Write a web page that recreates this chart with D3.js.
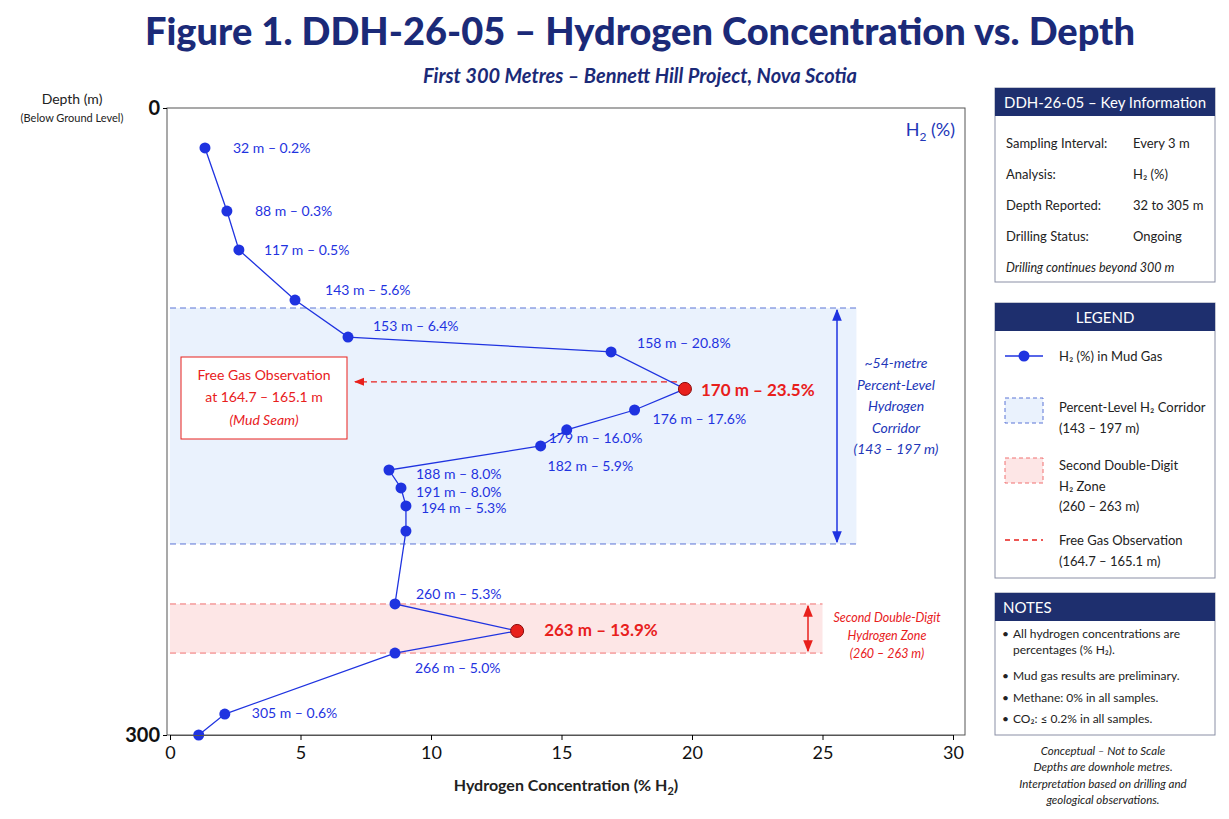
<!DOCTYPE html><html><head><meta charset="utf-8">
<script src="https://cdn.jsdelivr.net/npm/d3@7"></script>
<style>body{margin:0;background:#fff}text{font-family:Lato,"Open Sans",sans-serif}</style></head><body>
<svg id="c" width="1229" height="819"></svg>
<script>
// plotted positions (conceptual, not to scale)
const h2Pos=[1.34,2.18,2.64,4.79,6.82,16.9,19.73,17.8,15.2,14.2,8.39,8.85,9.04,9.04,8.62,13.3,8.62,2.1,1.1];
const depthPos=[19.1,49.3,67.9,91.9,109.6,116.7,134.4,144.5,154,161.7,173.2,181.8,190.4,202.4,237.3,250.2,260.8,290,300];
const labels=["32 m – 0.2%","88 m – 0.3%","117 m – 0.5%","143 m – 5.6%","153 m – 6.4%","158 m – 20.8%","170 m – 23.5%","176 m – 17.6%","179 m – 16.0%","182 m – 5.9%","188 m – 8.0%","191 m – 8.0%","194 m – 5.3%","260 m – 5.3%","263 m – 13.9%","266 m – 5.0%","305 m – 0.6%"];
const xTicks=[0,5,10,15,20,25,30];
const yTicks=[0,300];
const corridor=[95.7,208.6], zone2=[237.3,260.8], freeGasDepth=131;
const keyInfo=[["Sampling Interval:","Every 3 m"],["Analysis:","H₂ (%)"],["Depth Reported:","32 to 305 m"],["Drilling Status:","Ongoing"]];
const svg=d3.select("#c");
const x=d3.scaleLinear().domain([0,30]).range([170,953]);
const y=d3.scaleLinear().domain([0,300]).range([108,735]);
const navy="#1b2a78", blue="#1f33e0", red="#e8201c";
svg.append("text").attr("x",640).attr("y",45).attr("text-anchor","middle").attr("font-size",38).attr("font-weight",900).attr("fill",navy).attr("font-family","'DejaVu Sans Condensed',sans-serif").text("Figure 1.  DDH-26-05 – Hydrogen Concentration vs. Depth");
svg.append("text").attr("x",640).attr("y",83).attr("text-anchor","middle").attr("font-size",20).attr("font-weight",700).attr("font-style","italic").attr("fill",navy).text("First 300 Metres – Bennett Hill Project, Nova Scotia");
svg.append("rect").attr("x",167).attr("y",108).attr("width",798).attr("height",627).attr("fill","none").attr("stroke","#555");
svg.append("rect").attr("x",170).attr("y",y(corridor[0])).attr("width",x(26.3)-170).attr("height",y(corridor[1])-y(corridor[0])).attr("fill","#eaf2fd");
corridor.forEach(d=>svg.append("line").attr("x1",170).attr("x2",x(26.3)).attr("y1",y(d)).attr("y2",y(d)).attr("stroke","#5b74d6").attr("stroke-dasharray","6,4"));
svg.append("rect").attr("x",170).attr("y",y(zone2[0])).attr("width",x(25)-170).attr("height",y(zone2[1])-y(zone2[0])).attr("fill","#fde6e6");
zone2.forEach(d=>svg.append("line").attr("x1",170).attr("x2",x(25)).attr("y1",y(d)).attr("y2",y(d)).attr("stroke","#f07070").attr("stroke-dasharray","6,4"));
const defs=svg.append("defs");
function mk(id,c){defs.append("marker").attr("id",id).attr("viewBox","0 0 10 10").attr("refX",9).attr("refY",5).attr("markerWidth",8).attr("markerHeight",8).attr("orient","auto-start-reverse").append("path").attr("d","M0,1L10,5L0,9z").attr("fill",c);}
mk("ab",blue);mk("ar",red);
svg.append("line").attr("x1",837).attr("x2",837).attr("y1",y(corridor[0])+2).attr("y2",y(corridor[1])-2).attr("stroke",blue).attr("stroke-width",1.5).attr("marker-start","url(#ab)").attr("marker-end","url(#ab)");
svg.append("line").attr("x1",808).attr("x2",808).attr("y1",y(zone2[0])+2).attr("y2",y(zone2[1])-2).attr("stroke",red).attr("stroke-width",1.5).attr("marker-start","url(#ar)").attr("marker-end","url(#ar)");
svg.append("line").attr("x1",x(h2Pos[6])-8).attr("x2",355).attr("y1",y(freeGasDepth)).attr("y2",y(freeGasDepth)).attr("stroke",red).attr("stroke-width",1.3).attr("stroke-dasharray","6,4").attr("marker-end","url(#ar)");
const ct=svg.append("text").attr("text-anchor","middle").attr("font-size",14).attr("font-style","italic").attr("fill","#2236b8");
["~54-metre","Percent-Level","Hydrogen","Corridor","(143 – 197 m)"].forEach((s,i)=>ct.append("tspan").attr("x",896).attr("y",368+i*21.5).text(s));
const rt=svg.append("text").attr("text-anchor","middle").attr("font-size",12.5).attr("font-style","italic").attr("fill",red);
["Second Double-Digit","Hydrogen Zone","(260 – 263 m)"].forEach((s,i)=>rt.append("tspan").attr("x",887).attr("y",622+i*18).text(s));
svg.append("rect").attr("x",181).attr("y",357).attr("width",166).attr("height",82).attr("fill","#fff").attr("stroke",red);
const fg=svg.append("text").attr("text-anchor","middle").attr("font-size",14).attr("fill",red);
fg.append("tspan").attr("x",264).attr("y",380).text("Free Gas Observation");
fg.append("tspan").attr("x",264).attr("y",402).text("at 164.7 – 165.1 m");
fg.append("tspan").attr("x",264).attr("y",425).attr("font-style","italic").text("(Mud Seam)");
const pts=h2Pos.map((v,i)=>[v,depthPos[i]]);
svg.append("path").attr("d",d3.line().x(d=>x(d[0])).y(d=>y(d[1]))(pts)).attr("fill","none").attr("stroke",blue).attr("stroke-width",1.3);
const hi=i=>i===6||i===15;
svg.selectAll("circle.p").data(pts).join("circle").attr("cx",d=>x(d[0])).attr("cy",d=>y(d[1])).attr("r",(d,i)=>hi(i)?6.5:5.5).attr("fill",(d,i)=>hi(i)?red:blue).attr("stroke",(d,i)=>hi(i)?"#8a0a0a":"none");
const lp=[[0,28,5],[1,28,5],[2,25,5],[3,30,-5],[4,25,-6],[5,26,-4],[6,16,7],[7,18,14],[8,-18,13],[9,7,25],[10,27,9],[11,15,9],[12,15,7],[14,21,-5],[15,27,5],[16,20,20],[17,27,4]];
lp.forEach(([i,dx,dy],k)=>{svg.append("text").attr("x",x(h2Pos[i])+dx).attr("y",y(depthPos[i])+dy).attr("font-size",hi(i)?17:14).attr("font-weight",hi(i)?700:400).attr("fill",hi(i)?red:blue).text(labels[k]);});
svg.append("text").attr("x",955).attr("y",136).attr("text-anchor","end").attr("font-size",18).attr("fill","#2236b8").html('H<tspan font-size="12" dy="5">2</tspan><tspan dy="-5"> (%)</tspan>');
const xa=svg.append("g").attr("transform","translate(0,735)").call(d3.axisBottom(x).tickValues(xTicks).tickSize(5));
xa.selectAll("text").attr("font-size",18).attr("fill","#111").attr("dy","0.9em");xa.select(".domain").attr("stroke","#555");
const ya=svg.append("g").attr("transform","translate(167,0)").call(d3.axisLeft(y).tickValues(yTicks).tickSize(4));
ya.selectAll("text").attr("font-size",20).attr("font-weight",700).attr("fill","#111");ya.select(".domain").remove();
svg.append("text").attr("x",566).attr("y",791).attr("text-anchor","middle").attr("font-size",16).attr("font-weight",700).attr("fill","#222").html('Hydrogen Concentration (% H<tspan font-size="11" dy="4">2</tspan><tspan dy="-4">)</tspan>');
svg.append("text").attr("x",72).attr("y",104).attr("text-anchor","middle").attr("font-size",14).attr("fill","#222").text("Depth (m)");
svg.append("text").attr("x",72).attr("y",122).attr("text-anchor","middle").attr("font-size",11).attr("fill","#222").text("(Below Ground Level)");
// right panels
function panel(y0,h,title,center){svg.append("rect").attr("x",995).attr("y",y0).attr("width",220).attr("height",h).attr("fill","#fff").attr("stroke","#8a8fa5");
svg.append("rect").attr("x",995).attr("y",y0).attr("width",220).attr("height",28).attr("fill","#1e2f6e");
svg.append("text").attr("x",center?1105:1003).attr("y",y0+20).attr("text-anchor",center?"middle":"start").attr("font-size",15).attr("fill","#fff").text(title);}
panel(88,194,"DDH-26-05 – Key Information",true);
keyInfo.forEach((r,i)=>{svg.append("text").attr("x",1006).attr("y",148+i*31).attr("font-size",13).attr("fill","#222").text(r[0]);svg.append("text").attr("x",1133).attr("y",148+i*31).attr("font-size",13).attr("fill","#222").text(r[1]);});
svg.append("text").attr("x",1006).attr("y",272).attr("font-size",12.5).attr("font-style","italic").attr("fill","#222").text("Drilling continues beyond 300 m");
panel(303,275,"LEGEND",true);
svg.append("line").attr("x1",1005).attr("x2",1043).attr("y1",356).attr("y2",356).attr("stroke",blue).attr("stroke-width",1.5);
svg.append("circle").attr("cx",1024).attr("cy",356).attr("r",5.5).attr("fill",blue);
svg.append("text").attr("x",1059).attr("y",361).attr("font-size",13).attr("fill","#222").text("H₂ (%) in Mud Gas");
svg.append("rect").attr("x",1005).attr("y",398).attr("width",38).attr("height",25).attr("fill","#eaf2fd").attr("stroke","#5b74d6").attr("stroke-dasharray","4,3");
svg.append("text").attr("x",1059).attr("y",412).attr("font-size",13).attr("fill","#222").text("Percent-Level H₂ Corridor");
svg.append("text").attr("x",1059).attr("y",433).attr("font-size",13).attr("fill","#222").text("(143 – 197 m)");
svg.append("rect").attr("x",1005).attr("y",458).attr("width",38).attr("height",25).attr("fill","#fde6e6").attr("stroke","#f07070").attr("stroke-dasharray","4,3");
["Second Double-Digit","H₂ Zone","(260 – 263 m)"].forEach((s,i)=>svg.append("text").attr("x",1059).attr("y",470+i*20.5).attr("font-size",13).attr("fill","#222").text(s));
svg.append("line").attr("x1",1005).attr("x2",1043).attr("y1",540).attr("y2",540).attr("stroke",red).attr("stroke-width",1.3).attr("stroke-dasharray","5,4");
svg.append("text").attr("x",1059).attr("y",545).attr("font-size",13).attr("fill","#222").text("Free Gas Observation");
svg.append("text").attr("x",1059).attr("y",566).attr("font-size",13).attr("fill","#222").text("(164.7 – 165.1 m)");
panel(593,142,"NOTES",false);
const notes=[["All hydrogen concentrations are",638],["percentages (% H₂).",654,true],["Mud gas results are preliminary.",680],["Methane:  0% in all samples.",702],["CO₂: ≤ 0.2% in all samples.",723]];
notes.forEach(([s,yy,cont])=>{if(!cont)svg.append("text").attr("x",1002).attr("y",yy).attr("font-size",12).attr("fill","#222").text("•");svg.append("text").attr("x",1013).attr("y",yy).attr("font-size",12).attr("fill","#222").text(s);});
["Conceptual – Not to Scale","Depths are downhole metres.","Interpretation based on drilling and","geological observations."].forEach((s,i)=>svg.append("text").attr("x",1103).attr("y",755+i*16.3).attr("text-anchor","middle").attr("font-size",11.5).attr("font-style","italic").attr("fill","#222").text(s));
</script></body></html>
